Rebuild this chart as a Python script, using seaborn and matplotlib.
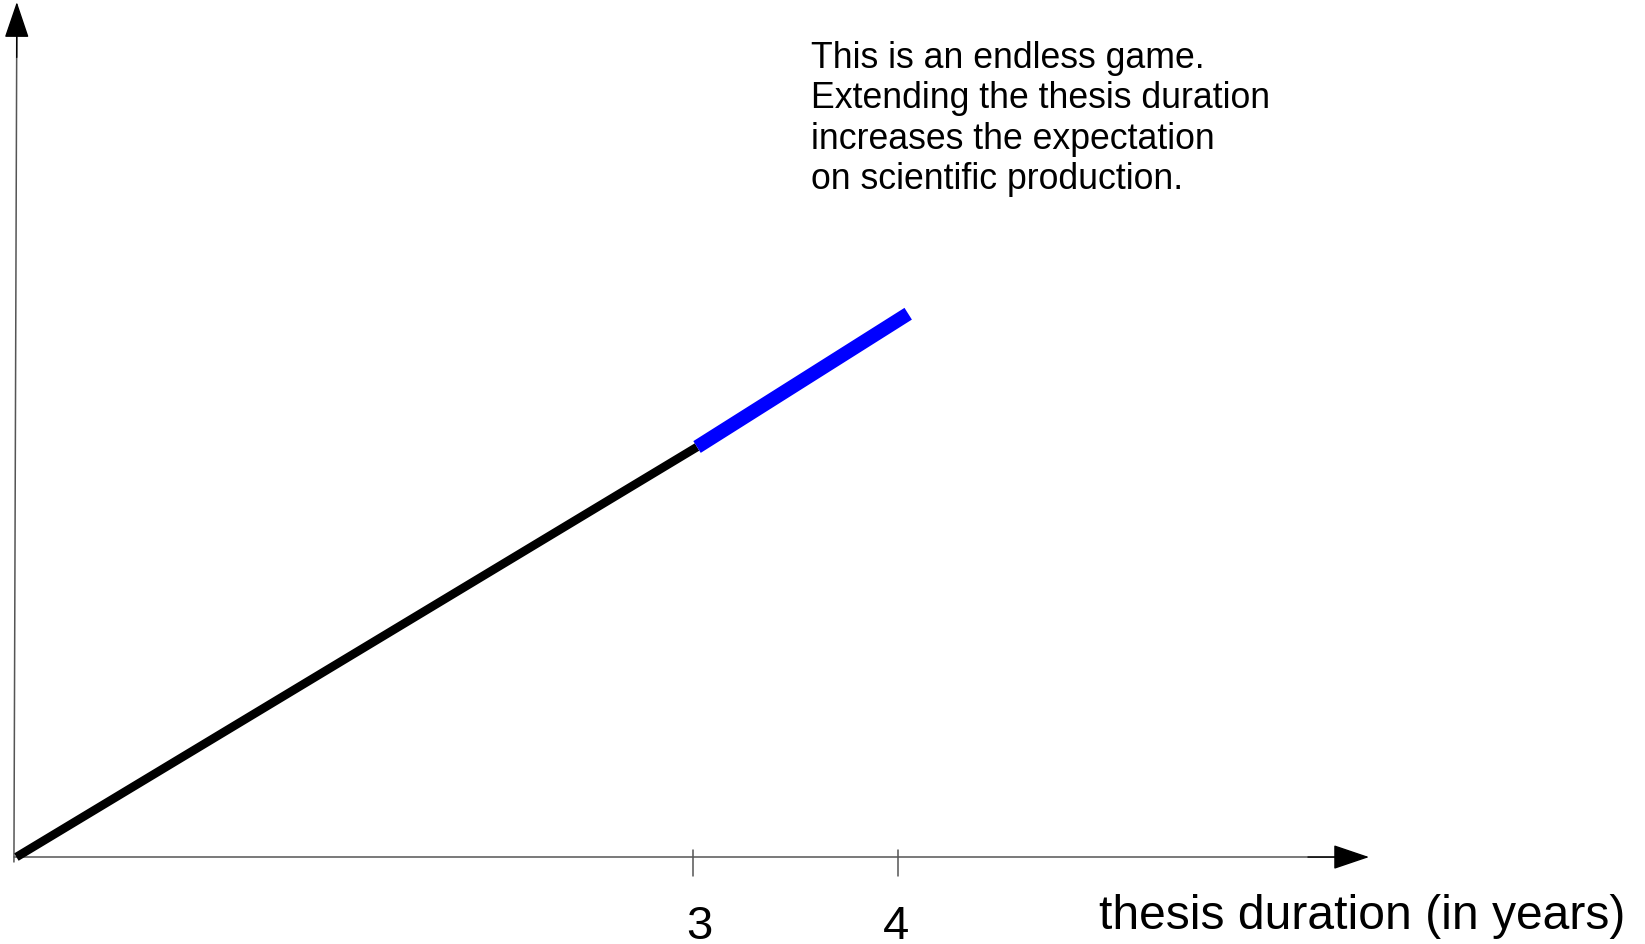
import pandas as pd
import matplotlib
matplotlib.use("Agg")
import matplotlib.pyplot as plt
import seaborn as sns

# data (x in years, y in arbitrary "expected production" units)
standard_years = [-0.3, 3.02]
standard_prod = [0.0, 2.0]
extended_years = [3.02, 4.05]
extended_prod = [2.0, 2.65]
tick_years = [3, 4]
tick_labels = ["3", "4"]

x_label = "thesis duration (in years)"
note = ("This is an endless game.\n"
        "Extending the thesis duration\n"
        "increases the expectation\n"
        "on scientific production.")

sns.set_style("white")
plt.rcParams['font.family'] = ['Liberation Sans', 'DejaVu Sans']
plt.rcParams['text.color'] = 'black'

df_std = pd.DataFrame({'years': standard_years, 'prod': standard_prod})
df_ext = pd.DataFrame({'years': extended_years, 'prod': extended_prod})

fig = plt.figure(figsize=(16.45, 9.45), dpi=100)
ax = fig.add_axes([0, 0, 1, 1])
ax.set_xlim(-0.38, 7.644)
ax.set_ylim(-0.424, 4.185)
ax.axis('off')

# hand-drawn style axes
axis_grey = '#555555'
ax.plot([-0.312, 6.2], [0, 0], color=axis_grey, lw=1.1)
ax.plot([-0.312, -0.298], [-0.024, 4.1], color=axis_grey, lw=1.1)
arrow = dict(arrowstyle='-|>,head_length=2.3,head_width=0.78', mutation_scale=10,
             color='black', lw=1, shrinkA=0, shrinkB=0)
ax.annotate('', xy=(6.298, 0), xytext=(6.0, 0), arrowprops=arrow)
ax.annotate('', xy=(-0.298, 4.17), xytext=(-0.2985, 3.9), arrowprops=arrow)

label_nudge = [0.03, -0.01]
for t, lab, dx in zip(tick_years, tick_labels, label_nudge):
    ax.plot([t, t], [0.034, -0.093], color=axis_grey, lw=1.1)
    ax.text(t + dx, -0.395, lab, ha='center', va='baseline', fontsize=34)

ax.text(4.98, -0.345, x_label, ha='left', va='baseline', fontsize=34.6)

sns.lineplot(data=df_std, x='years', y='prod', ax=ax, color='black', lw=6.2,
             sort=False, solid_capstyle='butt')
sns.lineplot(data=df_ext, x='years', y='prod', ax=ax, color='blue', lw=10,
             sort=False, solid_capstyle='butt')
ax.axis('off')

ax.text(3.575, 3.985, note, ha='left', va='top', fontsize=25.7, linespacing=1.2)

fig.savefig('out.png', dpi=100)
